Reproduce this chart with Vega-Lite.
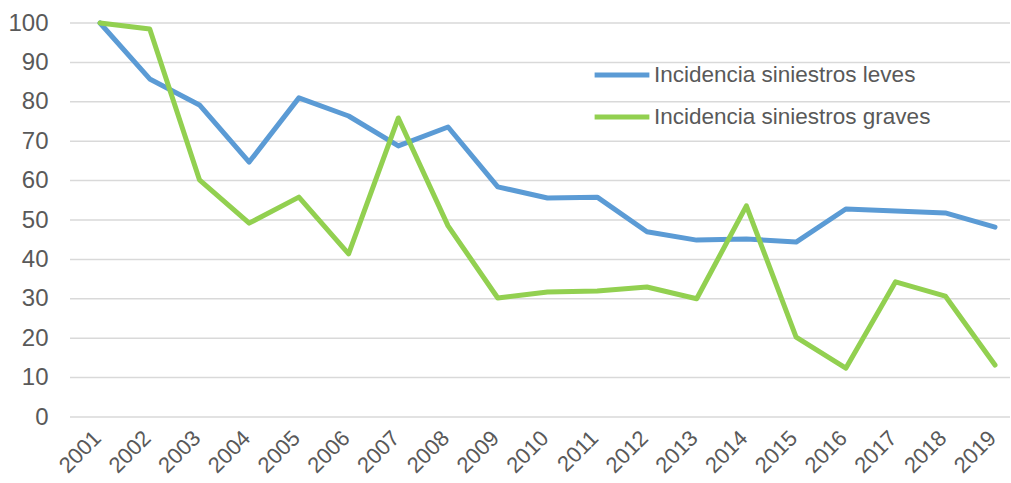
{
  "$schema": "https://vega.github.io/schema/vega-lite/v6.json",
  "width": 940,
  "height": 394,
  "autosize": "none",
  "padding": {"left": 70, "top": 23, "right": 1, "bottom": 66},
  "config": {
    "view": {"stroke": null},
    "font": "Liberation Sans",
    "axis": {"labelFont": "Liberation Sans", "labelColor": "#595959", "domain": false, "ticks": false, "grid": false, "labelOverlap": false}
  },
  "layer": [
    {
      "data": {"values": [{"g": 0}, {"g": 10}, {"g": 20}, {"g": 30}, {"g": 40}, {"g": 50}, {"g": 60}, {"g": 70}, {"g": 80}, {"g": 90}, {"g": 100}]},
      "mark": {"type": "rule", "color": "#D9D9D9", "strokeWidth": 1.5},
      "encoding": {
        "y": {"field": "g", "type": "quantitative", "scale": {"domain": [0, 100], "nice": false}, "title": null,
          "axis": {"values": [0, 10, 20, 30, 40, 50, 60, 70, 80, 90, 100], "labelFontSize": 24, "labelPadding": 22, "labelOverlap": false}}
      }
    },
    {
      "data": {
        "values": [
          {"year": "2001", "serie": "Incidencia siniestros leves", "v": 100},
          {"year": "2002", "serie": "Incidencia siniestros leves", "v": 85.8},
          {"year": "2003", "serie": "Incidencia siniestros leves", "v": 79.2},
          {"year": "2004", "serie": "Incidencia siniestros leves", "v": 64.7},
          {"year": "2005", "serie": "Incidencia siniestros leves", "v": 81},
          {"year": "2006", "serie": "Incidencia siniestros leves", "v": 76.4},
          {"year": "2007", "serie": "Incidencia siniestros leves", "v": 68.8},
          {"year": "2008", "serie": "Incidencia siniestros leves", "v": 73.6},
          {"year": "2009", "serie": "Incidencia siniestros leves", "v": 58.4},
          {"year": "2010", "serie": "Incidencia siniestros leves", "v": 55.6},
          {"year": "2011", "serie": "Incidencia siniestros leves", "v": 55.8},
          {"year": "2012", "serie": "Incidencia siniestros leves", "v": 47},
          {"year": "2013", "serie": "Incidencia siniestros leves", "v": 44.9},
          {"year": "2014", "serie": "Incidencia siniestros leves", "v": 45.2},
          {"year": "2015", "serie": "Incidencia siniestros leves", "v": 44.4},
          {"year": "2016", "serie": "Incidencia siniestros leves", "v": 52.8},
          {"year": "2017", "serie": "Incidencia siniestros leves", "v": 52.3},
          {"year": "2018", "serie": "Incidencia siniestros leves", "v": 51.8},
          {"year": "2019", "serie": "Incidencia siniestros leves", "v": 48.2},
          {"year": "2001", "serie": "Incidencia siniestros graves", "v": 100},
          {"year": "2002", "serie": "Incidencia siniestros graves", "v": 98.5},
          {"year": "2003", "serie": "Incidencia siniestros graves", "v": 60.2},
          {"year": "2004", "serie": "Incidencia siniestros graves", "v": 49.2},
          {"year": "2005", "serie": "Incidencia siniestros graves", "v": 55.8},
          {"year": "2006", "serie": "Incidencia siniestros graves", "v": 41.4},
          {"year": "2007", "serie": "Incidencia siniestros graves", "v": 75.9},
          {"year": "2008", "serie": "Incidencia siniestros graves", "v": 48.5},
          {"year": "2009", "serie": "Incidencia siniestros graves", "v": 30.2},
          {"year": "2010", "serie": "Incidencia siniestros graves", "v": 31.7},
          {"year": "2011", "serie": "Incidencia siniestros graves", "v": 32},
          {"year": "2012", "serie": "Incidencia siniestros graves", "v": 33},
          {"year": "2013", "serie": "Incidencia siniestros graves", "v": 30},
          {"year": "2014", "serie": "Incidencia siniestros graves", "v": 53.6},
          {"year": "2015", "serie": "Incidencia siniestros graves", "v": 20.3},
          {"year": "2016", "serie": "Incidencia siniestros graves", "v": 12.4},
          {"year": "2017", "serie": "Incidencia siniestros graves", "v": 34.3},
          {"year": "2018", "serie": "Incidencia siniestros graves", "v": 30.7},
          {"year": "2019", "serie": "Incidencia siniestros graves", "v": 13.2}
        ]
      },
      "mark": {"type": "line", "strokeWidth": 5, "strokeCap": "round", "strokeJoin": "round"},
      "encoding": {
        "x": {
          "field": "year", "type": "ordinal", "title": null,
          "scale": {"type": "point", "range": [30, 925], "padding": 0},
          "axis": {"labelAngle": -45, "labelFontSize": 22, "labelPadding": 10, "labelOffset": -10}
        },
        "y": {"field": "v", "type": "quantitative", "title": null, "scale": {"domain": [0, 100], "nice": false},
          "axis": {"values": [0, 10, 20, 30, 40, 50, 60, 70, 80, 90, 100], "labelFontSize": 24, "labelPadding": 22, "labelOverlap": false}},
        "color": {
          "field": "serie", "type": "nominal", "title": null,
          "sort": ["Incidencia siniestros leves", "Incidencia siniestros graves"],
          "scale": {"domain": ["Incidencia siniestros leves", "Incidencia siniestros graves"], "range": ["#5B9BD5", "#92D050"]},
          "legend": {
            "orient": "none", "legendX": 522, "legendY": 22,
            "symbolType": "stroke", "symbolSize": 3000, "symbolStrokeWidth": 5,
            "labelFontSize": 22.5, "labelColor": "#595959", "labelFont": "Liberation Sans",
            "labelLimit": 400, "rowPadding": -12, "labelOffset": 2
          }
        }
      }
    }
  ]
}
